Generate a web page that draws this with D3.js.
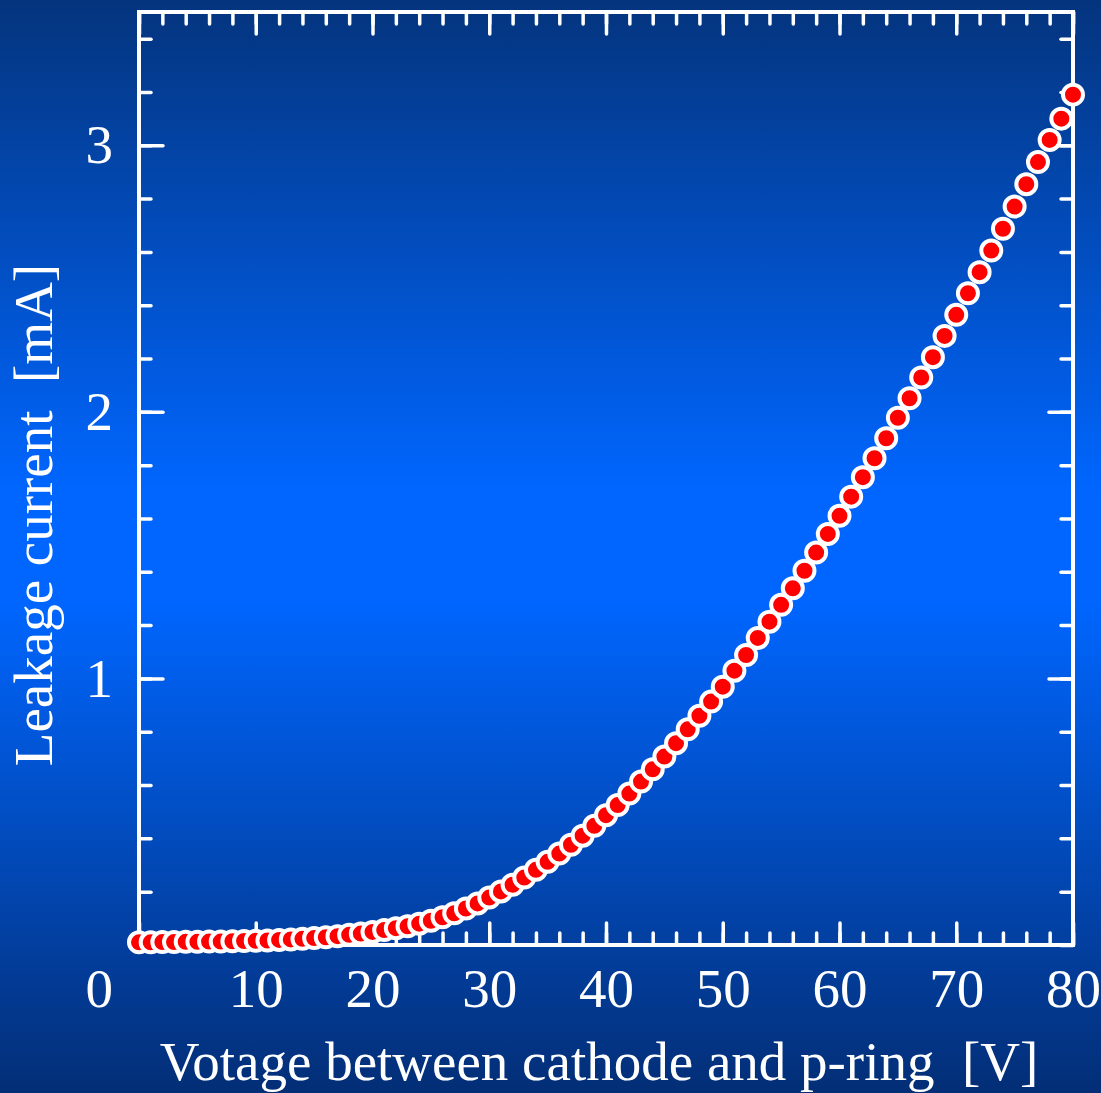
<!DOCTYPE html>
<html>
<head>
<meta charset="utf-8">
<script src="https://cdn.jsdelivr.net/npm/d3@7"></script>
<style>
  html, body { margin: 0; padding: 0; background: #0050c8; }
  svg { display: block; }
  .axis text { font-family: 'Liberation Serif', 'Times New Roman', serif; fill: #fff; white-space: pre; }
</style>
</head>
<body>
<div id="chart"></div>
<script>
// Leakage current vs voltage, one reading per volt
const voltages = d3.range(0, 81)
const currents = [
  0.010, 0.010, 0.011, 0.011, 0.012, 0.012, 0.013, 0.013, 0.014, 0.015,
  0.016, 0.017, 0.019, 0.021, 0.023, 0.026, 0.029, 0.033, 0.038, 0.043,
  0.049, 0.056, 0.063, 0.070, 0.080, 0.091, 0.104, 0.119, 0.137, 0.156,
  0.178, 0.201, 0.226, 0.253, 0.282, 0.312, 0.343, 0.376, 0.410, 0.447,
  0.487, 0.525, 0.568, 0.613, 0.659, 0.707, 0.757, 0.809, 0.860, 0.913,
  0.969, 1.029, 1.088, 1.152, 1.213, 1.276, 1.338, 1.404, 1.472, 1.542,
  1.610, 1.682, 1.755, 1.826, 1.901, 1.978, 2.051, 2.129, 2.205, 2.285,
  2.364, 2.445, 2.524, 2.605, 2.687, 2.770, 2.854, 2.937, 3.020, 3.100,
  3.190
]
const xMajorTicks = [0, 10, 20, 30, 40, 50, 60, 70, 80]
const xMinorTicks = d3.range(0, 81, 2)
const yMajorTicks = [1, 2, 3]
const yMinorTicks = d3.range(0, 3.51, 0.2)

const xTitle = 'Votage between cathode and p-ring  [V]'
const yTitle = 'Leakage current  [mA]'

const margin = { top: 12, left: 139, right: 28, bottom: 148 }
const fullWidth = 1101
const fullHeight = 1093
const width = fullWidth - margin.left - margin.right
const height = fullHeight - margin.top - margin.bottom

const root = d3
  .select('#chart')
  .append('svg')
  .attr('width', fullWidth)
  .attr('height', fullHeight)

// background gradient
const grad = root
  .append('defs')
  .append('linearGradient')
  .attr('id', 'bg')
  .attr('x1', 0)
  .attr('y1', 0)
  .attr('x2', 0)
  .attr('y2', 1)
grad.append('stop').attr('offset', '0%').attr('stop-color', '#04347d')
grad.append('stop').attr('offset', '45%').attr('stop-color', '#0066ff')
grad.append('stop').attr('offset', '55%').attr('stop-color', '#0066ff')
grad.append('stop').attr('offset', '100%').attr('stop-color', '#032e76')

root
  .append('rect')
  .attr('width', fullWidth)
  .attr('height', fullHeight)
  .attr('fill', 'url(#bg)')

const svg = root
  .append('g')
  .attr('transform', 'translate(' + margin.left + ',' + margin.top + ')')

const xPositionScale = d3.scaleLinear().domain([0, 80]).range([0, width])
const yPositionScale = d3.scaleLinear().domain([0, 3.5]).range([height, 0])

const fontSize = 55

function styleAxis(g) {
  g.select('.domain').remove()
  g.selectAll('.tick line')
    .attr('stroke', '#fff')
    .attr('stroke-width', 3.5)
    .attr('stroke-linecap', 'round')
  g.selectAll('.tick text').attr('font-size', fontSize)
}

// minor ticks, all four sides
svg.append('g')
  .attr('class', 'axis')
  .attr('transform', 'translate(0,' + height + ')')
  .call(d3.axisBottom(xPositionScale).tickValues(xMinorTicks).tickSize(-12).tickFormat(''))
  .call(styleAxis)
svg.append('g')
  .attr('class', 'axis')
  .call(d3.axisTop(xPositionScale).tickValues(xMinorTicks).tickSize(-12).tickFormat(''))
  .call(styleAxis)
svg.append('g')
  .attr('class', 'axis')
  .call(d3.axisLeft(yPositionScale).tickValues(yMinorTicks).tickSize(-12).tickFormat(''))
  .call(styleAxis)
svg.append('g')
  .attr('class', 'axis')
  .attr('transform', 'translate(' + width + ',0)')
  .call(d3.axisRight(yPositionScale).tickValues(yMinorTicks).tickSize(-12).tickFormat(''))
  .call(styleAxis)

// major ticks with labels
svg.append('g')
  .attr('class', 'axis x-axis')
  .attr('transform', 'translate(0,' + height + ')')
  .call(
    d3.axisBottom(xPositionScale)
      .tickValues(xMajorTicks)
      .tickSize(-22)
      .tickPadding(23)
      .tickFormat(d => (d === 0 ? '' : d))
  )
  .call(styleAxis)
svg.append('g')
  .attr('class', 'axis')
  .call(d3.axisTop(xPositionScale).tickValues(xMajorTicks).tickSize(-22).tickFormat(''))
  .call(styleAxis)
svg.append('g')
  .attr('class', 'axis y-axis')
  .call(
    d3.axisLeft(yPositionScale)
      .tickValues(yMajorTicks)
      .tickSize(-24)
      .tickPadding(26)
      .tickFormat(d3.format('d'))
  )
  .call(styleAxis)
svg.append('g')
  .attr('class', 'axis')
  .attr('transform', 'translate(' + width + ',0)')
  .call(d3.axisRight(yPositionScale).tickValues(yMajorTicks).tickSize(-24).tickFormat(''))
  .call(styleAxis)

// shared corner zero
svg.append('g')
  .attr('class', 'axis')
  .append('text')
  .text('0')
  .attr('x', xPositionScale(0) - 26)
  .attr('y', height + 23)
  .attr('dy', '0.71em')
  .attr('text-anchor', 'end')
  .attr('font-size', fontSize)

// frame
svg.append('rect')
  .attr('x', 0)
  .attr('y', 0)
  .attr('width', width)
  .attr('height', height)
  .attr('fill', 'none')
  .attr('stroke', '#fff')
  .attr('stroke-width', 4)

// points
svg.selectAll('circle')
  .data(voltages)
  .enter()
  .append('circle')
  .attr('cx', d => xPositionScale(d))
  .attr('cy', (d, i) => yPositionScale(currents[i]))
  .attr('r', 10)
  .attr('fill', '#ff0000')
  .attr('stroke', '#fff')
  .attr('stroke-width', 4)

// titles
svg.append('g')
  .attr('class', 'axis')
  .append('text')
  .text(xTitle)
  .attr('x', width / 2 - 7)
  .attr('y', height + 135)
  .attr('text-anchor', 'middle')
  .attr('font-size', fontSize)

svg.append('g')
  .attr('class', 'axis')
  .append('text')
  .text(yTitle)
  .attr('transform', 'translate(' + (52 - margin.left) + ',' + (515 - margin.top) + ') rotate(-90)')
  .attr('text-anchor', 'middle')
  .attr('font-size', fontSize)
</script>
</body>
</html>
